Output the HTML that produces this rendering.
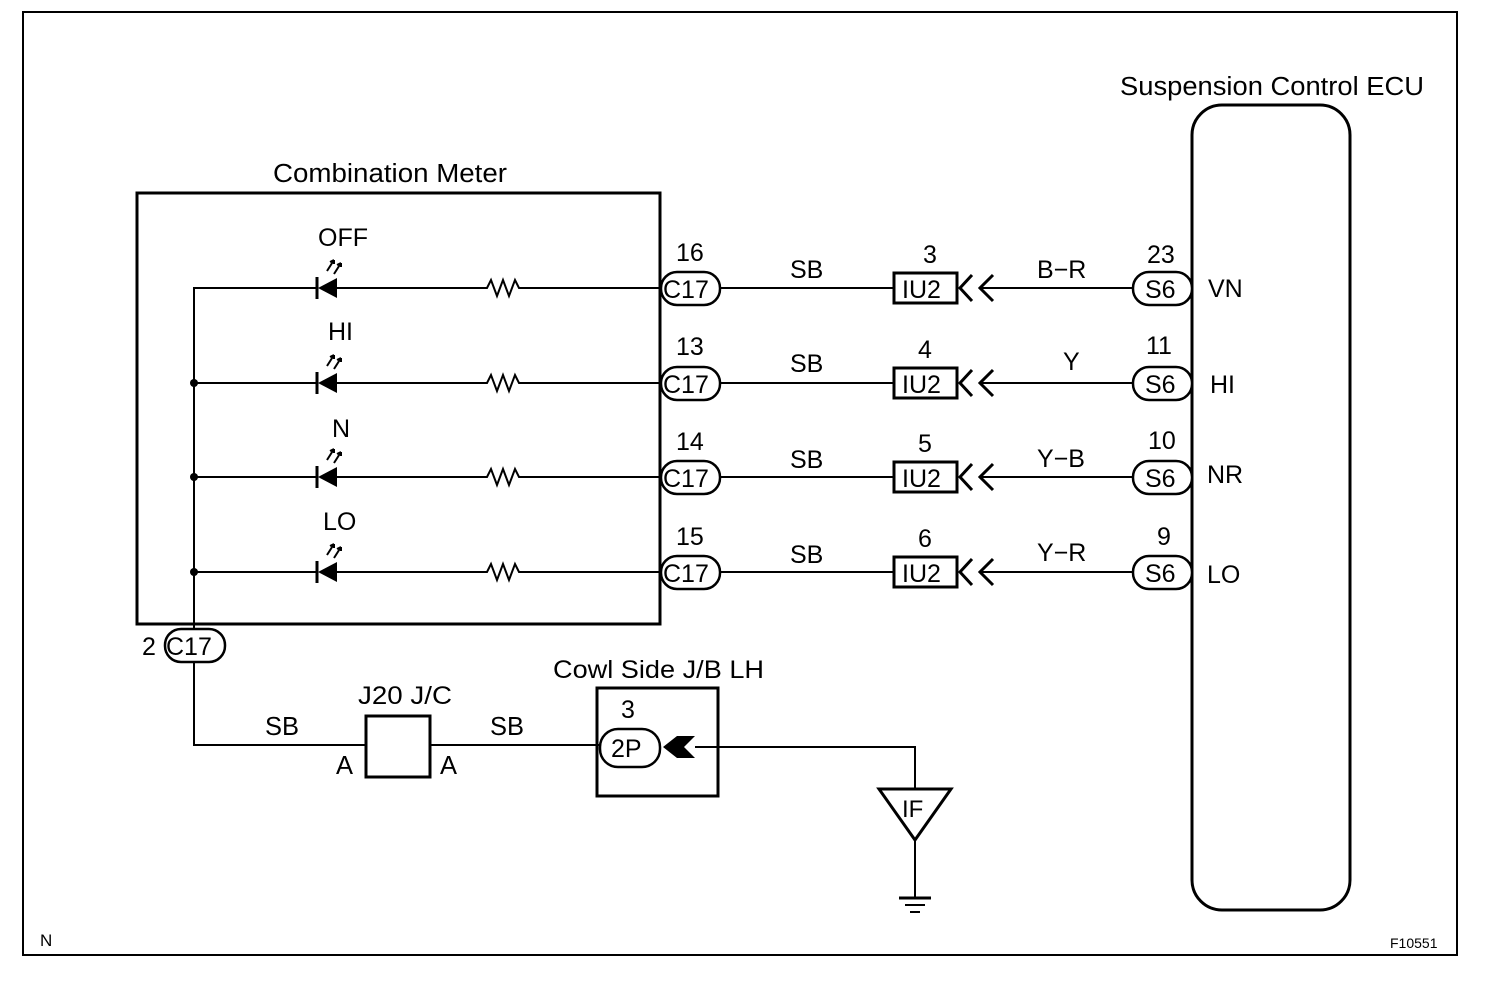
<!DOCTYPE html>
<html><head><style>body{margin:0;background:#fff}svg{display:block}text{font-family:"Liberation Sans",sans-serif;fill:#000}</style></head><body>
<svg width="1504" height="986" viewBox="0 0 1504 986" xmlns="http://www.w3.org/2000/svg">
<rect x="23" y="12" width="1434" height="943" fill="none" stroke="#000" stroke-width="2"/>
<text x="40" y="946" font-size="17">N</text>
<text x="1390" y="948" font-size="14">F10551</text>
<text x="1120" y="95" font-size="25.5" textLength="304" lengthAdjust="spacingAndGlyphs">Suspension Control ECU</text>
<rect x="1192" y="105" width="158" height="805" rx="30" fill="none" stroke="#000" stroke-width="3"/>
<text x="273" y="182" font-size="25.5" textLength="234" lengthAdjust="spacingAndGlyphs">Combination Meter</text>
<rect x="137" y="193" width="523" height="431" fill="none" stroke="#000" stroke-width="3"/>
<g stroke="#000" stroke-width="2" fill="none">
<polyline points="317,288 194,288 194,630"/>
<polyline points="194,662 194,745 366,745"/>
<line x1="430" y1="745" x2="600" y2="745"/>
<polyline points="695,747 915,747 915,790"/>
<line x1="915" y1="838" x2="915" y2="898"/>
<line x1="899" y1="898" x2="931" y2="898" stroke-width="3"/>
<line x1="905" y1="905" x2="925" y2="905"/>
<line x1="910" y1="912" x2="920" y2="912"/>
</g>
<polygon points="879,789 951,789 915,840" fill="none" stroke="#000" stroke-width="3"/>
<text x="902" y="817" font-size="24">IF</text>
<rect x="165" y="629" width="60" height="33" rx="16" fill="#fff" stroke="#000" stroke-width="2.5"/>
<text x="166" y="655" font-size="25">C17</text>
<text x="142" y="655" font-size="25">2</text>
<text x="265" y="735" font-size="25.5">SB</text>
<text x="490" y="735" font-size="25.5">SB</text>
<text x="358" y="704" font-size="25" textLength="94" lengthAdjust="spacingAndGlyphs">J20 J/C</text>
<rect x="366" y="716" width="64" height="61" fill="none" stroke="#000" stroke-width="3"/>
<text x="336" y="774" font-size="25.5">A</text>
<text x="440" y="774" font-size="25.5">A</text>
<text x="553" y="678" font-size="25" textLength="211" lengthAdjust="spacingAndGlyphs">Cowl Side J/B LH</text>
<rect x="597" y="688" width="121" height="108" fill="none" stroke="#000" stroke-width="3"/>
<text x="621" y="718" font-size="25">3</text>
<rect x="600" y="729" width="60" height="38" rx="18" fill="#fff" stroke="#000" stroke-width="2.5"/>
<text x="611" y="757" font-size="25">2P</text>
<polygon points="663,747 677,736 695,736 684,747 695,758 677,758" fill="#000"/>
<defs>
<g id="r">
<line x1="194" y1="0" x2="317" y2="0" stroke="#000" stroke-width="2"/>
<line x1="336" y1="0" x2="660" y2="0" stroke="#000" stroke-width="2"/>
<line x1="317" y1="-11" x2="317" y2="11" stroke="#000" stroke-width="3"/>
<polygon points="318,0 337,-10 337,10" fill="#000"/>
<path d="M327,-17 l7,-11 M334,-14 l7,-11" stroke="#000" stroke-width="2" fill="none"/>
<path d="M334,-28 l-4,2 M334,-28 l0,4 M341,-25 l-4,2 M341,-25 l0,4" stroke="#000" stroke-width="2" fill="none"/>
<rect x="480" y="-10" width="45" height="20" fill="#fff"/>
<polyline points="480,0 487,0 491,-8 497,8 503,-8 509,8 515,-8 519,0 525,0" fill="none" stroke="#000" stroke-width="2"/>
<line x1="720" y1="0" x2="893" y2="0" stroke="#000" stroke-width="2"/>
<rect x="661" y="-16" width="59" height="33" rx="16" fill="#fff" stroke="#000" stroke-width="2.5"/>
<text x="663" y="10" font-size="25">C17</text>
<rect x="894" y="-15" width="63" height="30" fill="#fff" stroke="#000" stroke-width="3"/>
<text x="902" y="10" font-size="25">IU2</text>
<polyline points="972,-13 960,0 972,13" fill="none" stroke="#000" stroke-width="3"/>
<polyline points="993,-13 980,0 993,13" fill="none" stroke="#000" stroke-width="3"/>
<line x1="980" y1="0" x2="1133" y2="0" stroke="#000" stroke-width="2"/>
<rect x="1133" y="-16" width="59" height="33" rx="16" fill="#fff" stroke="#000" stroke-width="2.5"/>
<text x="1145" y="10" font-size="25">S6</text>
</g>
</defs>
<use href="#r" y="288"/><use href="#r" y="383"/><use href="#r" y="477"/><use href="#r" y="572"/>
<g font-size="25">
<text x="318" y="246">OFF</text><text x="676" y="261">16</text><text x="790" y="278">SB</text><text x="923" y="263">3</text><text x="1037" y="278">B−R</text><text x="1147" y="263">23</text><text x="1208" y="297">VN</text>
<text x="328" y="340">HI</text><text x="676" y="355">13</text><text x="790" y="372">SB</text><text x="918" y="358">4</text><text x="1063" y="370">Y</text><text x="1146" y="354">11</text><text x="1210" y="393">HI</text>
<text x="332" y="437">N</text><text x="676" y="450">14</text><text x="790" y="468">SB</text><text x="918" y="452">5</text><text x="1037" y="467">Y−B</text><text x="1148" y="449">10</text><text x="1207" y="483">NR</text>
<text x="323" y="530">LO</text><text x="676" y="545">15</text><text x="790" y="563">SB</text><text x="918" y="547">6</text><text x="1037" y="561">Y−R</text><text x="1157" y="545">9</text><text x="1207" y="583">LO</text>
</g>
<circle cx="194" cy="383" r="4"/><circle cx="194" cy="477" r="4"/><circle cx="194" cy="572" r="4"/>
<line x1="660" y1="193" x2="660" y2="624" stroke="#000" stroke-width="3"/>
</svg>
</body></html>
